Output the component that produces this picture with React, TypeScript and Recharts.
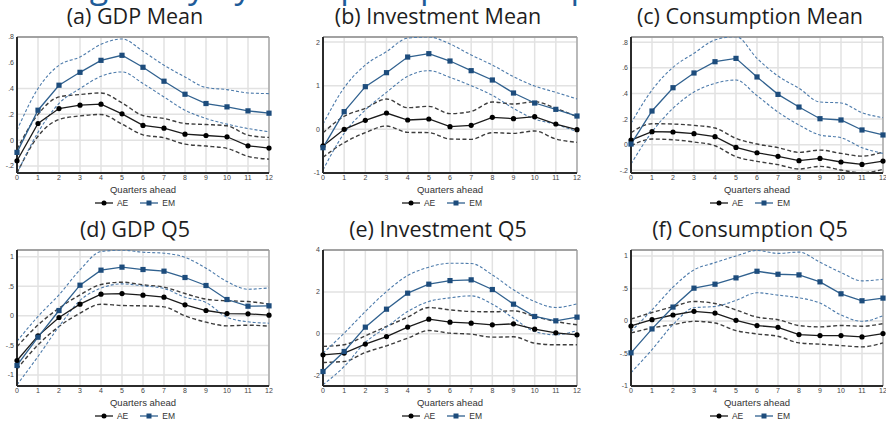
// Six small-multiple impulse responses (AE vs EM), Stata-like styling.
import { CartesianGrid, Line, LineChart, ReferenceLine, XAxis, YAxis } from "recharts";

const quarters = [0, 1, 2, 3, 4, 5, 6, 7, 8, 9, 10, 11, 12];

// (a) GDP mean
const gdpMeanAE = [-0.16, 0.129, 0.245, 0.271, 0.279, 0.204, 0.114, 0.093, 0.046, 0.036, 0.026, -0.044, -0.062];
const gdpMeanAEHi = [-0.07, 0.2, 0.335, 0.354, 0.366, 0.289, 0.191, 0.168, 0.129, 0.121, 0.111, 0.039, 0.021];
const gdpMeanAELo = [-0.255, 0.03, 0.16, 0.188, 0.199, 0.124, 0.041, 0.018, -0.031, -0.046, -0.064, -0.126, -0.147];
const gdpMeanEM = [-0.095, 0.232, 0.426, 0.526, 0.619, 0.658, 0.565, 0.457, 0.356, 0.284, 0.258, 0.227, 0.209];
const gdpMeanEMHi = [0.077, 0.4, 0.581, 0.645, 0.743, 0.785, 0.689, 0.581, 0.49, 0.408, 0.392, 0.366, 0.361];
const gdpMeanEMLo = [-0.258, 0.06, 0.285, 0.4, 0.495, 0.529, 0.439, 0.335, 0.232, 0.168, 0.124, 0.09, 0.065];

// (b) Investment mean
const invMeanAE = [-0.38, 0, 0.206, 0.374, 0.214, 0.237, 0.061, 0.092, 0.275, 0.244, 0.29, 0.122, -0.008];
const invMeanAEHi = [-0.08, 0.3, 0.48, 0.695, 0.496, 0.527, 0.359, 0.412, 0.626, 0.58, 0.634, 0.48, 0.29];
const invMeanAELo = [-0.64, -0.305, -0.076, 0.076, -0.069, -0.076, -0.221, -0.229, -0.076, -0.092, -0.038, -0.221, -0.298];
const invMeanEM = [-0.42, 0.405, 0.977, 1.298, 1.656, 1.733, 1.565, 1.344, 1.13, 0.832, 0.603, 0.458, 0.305];
const invMeanEMHi = [0.12, 0.954, 1.473, 1.779, 2.09, 2.115, 1.954, 1.702, 1.473, 1.206, 0.992, 0.847, 0.695];
const invMeanEMLo = [-0.93, -0.09, 0.443, 0.847, 1.214, 1.344, 1.19, 1.0, 0.779, 0.48, 0.237, 0.115, -0.053];

// (c) Consumption mean
const conMeanAE = [0.036, 0.102, 0.099, 0.086, 0.063, -0.021, -0.063, -0.091, -0.125, -0.107, -0.135, -0.154, -0.128];
const conMeanAEHi = [0.094, 0.164, 0.161, 0.151, 0.13, 0.049, 0.005, -0.023, -0.06, -0.042, -0.068, -0.089, -0.057];
const conMeanAELo = [-0.008, 0.044, 0.039, 0.021, -0.008, -0.094, -0.13, -0.156, -0.19, -0.169, -0.198, -0.219, -0.193];
const conMeanEM = [0.005, 0.263, 0.445, 0.56, 0.648, 0.674, 0.529, 0.393, 0.294, 0.203, 0.193, 0.115, 0.076];
const conMeanEMHi = [0.167, 0.427, 0.604, 0.714, 0.818, 0.844, 0.674, 0.536, 0.44, 0.333, 0.326, 0.25, 0.211];
const conMeanEMLo = [-0.151, 0.1, 0.284, 0.411, 0.479, 0.505, 0.383, 0.255, 0.154, 0.076, 0.055, -0.023, -0.068];

// (d) GDP Q5
const gdpQ5AE = [-0.755, -0.338, -0.028, 0.197, 0.366, 0.377, 0.349, 0.315, 0.186, 0.09, 0.039, 0.034, 0.011];
const gdpQ5AEHi = [-0.52, -0.155, 0.13, 0.355, 0.53, 0.569, 0.524, 0.485, 0.377, 0.282, 0.254, 0.242, 0.197];
const gdpQ5AELo = [-0.9, -0.49, -0.18, 0.045, 0.197, 0.175, 0.169, 0.152, 0, -0.107, -0.169, -0.158, -0.175];
const gdpQ5EM = [-0.839, -0.361, 0.09, 0.518, 0.772, 0.823, 0.783, 0.755, 0.648, 0.513, 0.276, 0.163, 0.169];
const gdpQ5EMHi = [-0.43, -0.01, 0.355, 0.777, 1.087, 1.11, 1.076, 1.059, 0.99, 0.806, 0.58, 0.45, 0.473];
const gdpQ5EMLo = [-1.166, -0.687, -0.18, 0.26, 0.468, 0.54, 0.507, 0.462, 0.315, 0.225, -0.023, -0.101, -0.124];

// (e) Investment Q5
const invQ5AE = [-1.0, -0.92, -0.49, -0.13, 0.32, 0.7, 0.556, 0.509, 0.43, 0.477, 0.223, 0.048, -0.048];
const invQ5AEHi = [-0.6, -0.52, -0.095, 0.35, 0.795, 1.256, 1.145, 1.065, 1.05, 1.097, 0.827, 0.588, 0.43];
const invQ5AELo = [-1.367, -1.32, -0.89, -0.572, -0.207, 0.159, 0.032, -0.016, -0.159, -0.143, -0.445, -0.525, -0.525];
const invQ5EM = [-1.8, -0.843, 0.318, 1.176, 1.94, 2.369, 2.54, 2.576, 2.114, 1.415, 0.827, 0.62, 0.795];
const invQ5EMHi = [-0.92, 0.03, 1.065, 2.02, 2.78, 3.18, 3.37, 3.355, 2.814, 2.1, 1.542, 1.256, 1.43];
const invQ5EMLo = [-2.43, -1.56, -0.41, 0.318, 1.065, 1.542, 1.717, 1.812, 1.415, 0.747, 0.111, -0.048, 0.159];

// (f) Consumption Q5
const conQ5AE = [-0.077, 0.02, 0.092, 0.148, 0.122, 0.01, -0.071, -0.097, -0.209, -0.224, -0.224, -0.245, -0.194];
const conQ5AEHi = [0.03, 0.13, 0.22, 0.3, 0.27, 0.17, 0.06, 0.02, -0.07, -0.09, -0.07, -0.08, -0.04];
const conQ5AELo = [-0.184, -0.107, -0.056, -0.005, -0.031, -0.148, -0.199, -0.235, -0.337, -0.357, -0.378, -0.398, -0.337];
const conQ5EM = [-0.49, -0.122, 0.214, 0.505, 0.566, 0.663, 0.765, 0.719, 0.709, 0.602, 0.418, 0.311, 0.352];
const conQ5EMHi = [-0.16, 0.17, 0.52, 0.786, 0.898, 1.0, 1.085, 1.04, 1.06, 0.903, 0.745, 0.617, 0.643];
const conQ5EMLo = [-0.796, -0.44, -0.056, 0.204, 0.224, 0.316, 0.434, 0.398, 0.357, 0.276, 0.092, -0.005, 0.082];

const AE = "#1b1b1b";
const AE_CI = "#3d3d3d";
const EM = "#30618f";
const EM_SQ = "#1d4c7c";
const EM_CI = "#4d7bab";
const GRID = "#e2e2e2";
const TICK = { fontSize: 7, fill: "#444", fontFamily: "Liberation Sans, Arial, sans-serif" };

const stataTick = (v: number) => {
  if (v === 0) return "0";
  const s = String(Math.abs(Number(v.toFixed(2)))).replace(/^0\./, ".");
  return (v < 0 ? "-" : "") + s;
};

function Square(props: any) {
  const { cx, cy, index } = props;
  if (cx == null || cy == null) return <g key={index} />;
  return <rect key={index} x={cx - 2.6} y={cy - 2.6} width={5.2} height={5.2} fill={EM_SQ} />;
}

function Dot(props: any) {
  const { cx, cy, index } = props;
  if (cx == null || cy == null) return <g key={index} />;
  return <circle key={index} cx={cx} cy={cy} r={2.6} fill="#000" />;
}

type PanelProps = {
  title: string;
  left: number;
  top: number;
  plotW: number;
  rightPad: number;
  domain: [number, number];
  ticks: number[];
  titleX: number;
  legendX: number;
  ae: number[];
  aeHi: number[];
  aeLo: number[];
  em: number[];
  emHi: number[];
  emLo: number[];
};

const Y_W = 17;
const M_TOP = 4;
const PLOT_H = 136;
const X_H = 25;

function LegendRow({ x, y }: { x: number; y: number }) {
  const item = (label: string, color: string, square: boolean) => (
    <span style={{ display: "inline-flex", alignItems: "center", marginRight: label === "AE" ? 12 : 0 }}>
      <svg width={18} height={8} style={{ marginRight: 4 }}>
        <line x1={0} y1={4} x2={18} y2={4} stroke={color} strokeWidth={1.3} />
        {square ? <rect x={6.5} y={1.5} width={5} height={5} fill={EM_SQ} /> : <circle cx={9} cy={4} r={2.5} fill="#000" />}
      </svg>
      {label}
    </span>
  );
  return (
    <div
      style={{
        position: "absolute",
        left: x - 60,
        width: 120,
        top: y - 6,
        height: 12,
        display: "flex",
        justifyContent: "center",
        alignItems: "center",
        fontSize: 8.5,
        color: "#333",
        fontFamily: "Liberation Sans, Arial, sans-serif",
      }}
    >
      {item("AE", AE, false)}
      {item("EM", EM, true)}
    </div>
  );
}

function Panel(p: PanelProps) {
  const rows = quarters.map((q, i) => ({
    q,
    ae: p.ae[i],
    aeHi: p.aeHi[i],
    aeLo: p.aeLo[i],
    em: p.em[i],
    emHi: p.emHi[i],
    emLo: p.emLo[i],
  }));
  const width = Y_W + p.plotW + p.rightPad;
  const height = M_TOP + PLOT_H + X_H;
  return (
    <>
      <div
        style={{
          position: "absolute",
          left: p.titleX - 150,
          width: 300,
          top: p.top + M_TOP - 32,
          textAlign: "center",
          fontFamily: "Open Sans, sans-serif",
          fontSize: 21.5,
          lineHeight: "22px",
          color: "#1e1e1e",
        }}
      >
        {p.title}
      </div>
      <div style={{ position: "absolute", left: p.left, top: p.top }}>
        <LineChart width={width} height={height} data={rows} margin={{ top: M_TOP, right: p.rightPad, left: 0, bottom: 0 }}>
          <CartesianGrid stroke={GRID} strokeWidth={1.5} />
          <XAxis
            dataKey="q"
            type="number"
            domain={[0, 12]}
            ticks={quarters}
            interval={0}
            height={X_H}
            tick={TICK}
            tickLine={false}
            tickSize={2}
            tickMargin={0}
            axisLine={{ stroke: "#2b2b2b", strokeWidth: 2 }}
            label={{
              value: "Quarters ahead",
              position: "insideBottom",
              offset: 5,
              style: { fontSize: 9.5, fill: "#333", fontFamily: "Liberation Sans, Arial, sans-serif" },
            }}
          />
          <YAxis
            type="number"
            domain={p.domain}
            ticks={p.ticks}
            allowDataOverflow
            width={Y_W}
            tick={TICK}
            tickLine={false}
            tickSize={2}
            tickMargin={1}
            tickFormatter={stataTick}
            axisLine={{ stroke: "#2b2b2b", strokeWidth: 2 }}
          />
          <ReferenceLine y={p.domain[1]} stroke="#8a8a8a" strokeWidth={1.5} />
          <ReferenceLine x={12} stroke="#9a9a9a" strokeWidth={1.2} />
          <Line type="monotone" dataKey="aeHi" stroke={AE_CI} strokeWidth={1.4} strokeDasharray="4 2.5" dot={false} isAnimationActive={false} />
          <Line type="monotone" dataKey="aeLo" stroke={AE_CI} strokeWidth={1.4} strokeDasharray="4 2.5" dot={false} isAnimationActive={false} />
          <Line type="monotone" dataKey="emHi" stroke={EM_CI} strokeWidth={1.1} strokeDasharray="3 2" dot={false} isAnimationActive={false} />
          <Line type="monotone" dataKey="emLo" stroke={EM_CI} strokeWidth={1.1} strokeDasharray="3 2" dot={false} isAnimationActive={false} />
          <Line type="linear" dataKey="ae" stroke={AE} strokeWidth={1.3} dot={Dot} isAnimationActive={false} />
          <Line type="linear" dataKey="em" stroke={EM} strokeWidth={1.3} dot={Square} isAnimationActive={false} />
        </LineChart>
      </div>
      <LegendRow x={p.legendX} y={p.top + M_TOP + PLOT_H + 30} />
    </>
  );
}

const COLS = [
  { left: 0, plotW: 252, rightPad: 8, titleX: 135, legendX: 135 },
  { left: 306, plotW: 254, rightPad: 8, titleX: 438, legendX: 442 },
  { left: 614, plotW: 252, rightPad: 4, titleX: 750, legendX: 750 },
];
const ROWS = [33, 246];

export default function App() {
  return (
    <div
      style={{
        position: "absolute",
        left: 0,
        top: 0,
        width: 886,
        height: 421,
        overflow: "hidden",
        background: "#fff",
      }}
    >
      <div
        style={{
          position: "absolute",
          left: -20,
          top: -32,
          whiteSpace: "nowrap",
          fontFamily: "Open Sans, sans-serif",
          fontSize: 34,
          lineHeight: "34px",
          color: "#1f5c99",
        }}
      >
        Heterogeneity by Group: Impulse Responses
      </div>
      <Panel title="(a) GDP Mean" {...COLS[0]} top={ROWS[0]} domain={[-0.255, 0.8]} ticks={[-0.2, 0, 0.2, 0.4, 0.6, 0.8]}
        ae={gdpMeanAE} aeHi={gdpMeanAEHi} aeLo={gdpMeanAELo} em={gdpMeanEM} emHi={gdpMeanEMHi} emLo={gdpMeanEMLo} />
      <Panel title="(b) Investment Mean" {...COLS[1]} top={ROWS[0]} domain={[-1, 2.115]} ticks={[-1, 0, 1, 2]}
        ae={invMeanAE} aeHi={invMeanAEHi} aeLo={invMeanAELo} em={invMeanEM} emHi={invMeanEMHi} emLo={invMeanEMLo} />
      <Panel title="(c) Consumption Mean" {...COLS[2]} top={ROWS[0]} domain={[-0.221, 0.841]} ticks={[-0.2, 0, 0.2, 0.4, 0.6, 0.8]}
        ae={conMeanAE} aeHi={conMeanAEHi} aeLo={conMeanAELo} em={conMeanEM} emHi={conMeanEMHi} emLo={conMeanEMLo} />
      <Panel title="(d) GDP Q5" {...COLS[0]} top={ROWS[1]} domain={[-1.186, 1.113]} ticks={[-1, -0.5, 0, 0.5, 1]}
        ae={gdpQ5AE} aeHi={gdpQ5AEHi} aeLo={gdpQ5AELo} em={gdpQ5EM} emHi={gdpQ5EMHi} emLo={gdpQ5EMLo} />
      <Panel title="(e) Investment Q5" {...COLS[1]} top={ROWS[1]} domain={[-2.49, 4.0]} ticks={[-2, 0, 2, 4]}
        ae={invQ5AE} aeHi={invQ5AEHi} aeLo={invQ5AELo} em={invQ5EM} emHi={invQ5EMHi} emLo={invQ5EMLo} />
      <Panel title="(f) Consumption Q5" {...COLS[2]} top={ROWS[1]} domain={[-1, 1.092]} ticks={[-1, -0.5, 0, 0.5, 1]}
        ae={conQ5AE} aeHi={conQ5AEHi} aeLo={conQ5AELo} em={conQ5EM} emHi={conQ5EMHi} emLo={conQ5EMLo} />
    </div>
  );
}
